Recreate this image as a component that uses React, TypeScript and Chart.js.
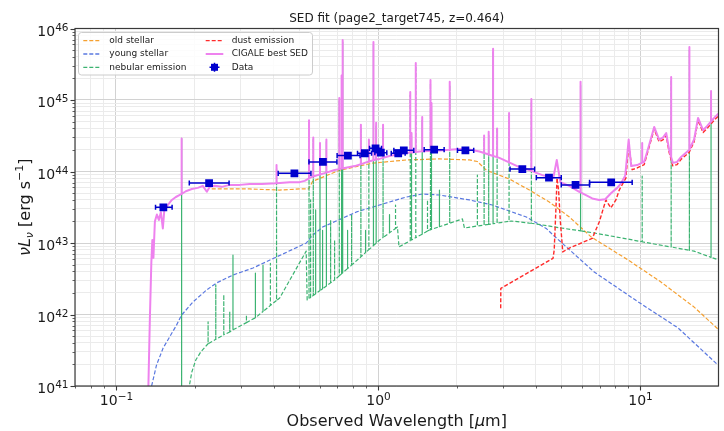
import React, { useEffect, useRef } from 'react';
import { Chart, registerables } from 'chart.js';

Chart.register(...registerables);

const FONT = '"DejaVu Sans", "Noto Sans", sans-serif';

const chartTitle = 'SED fit (page2_target745, z=0.464)';

// ---- Data (observed wavelength [µm], νLν [erg/s]) ----
const oldStellar: number[][] = [
  [0.232, 5.7e43], [0.324, 5.7e43], [0.421, 5.5e43], [0.502, 5.7e43], [0.543, 5.7e43],
  [0.563, 7.3e43], [0.713, 1.04e44], [0.953, 1.31e44], [1.284, 1.45e44], [1.715, 1.5e44],
  [2.23, 1.45e44], [2.393, 1.38e44], [2.59, 1.04e44], [3.17, 7.85e43], [3.78, 5.5e43],
  [4.5, 3.74e43], [5.37, 2.31e43], [6.51, 1.21e43], [9.0, 5.78e42], [12.0, 2.85e42],
  [16.06, 1.27e42], [20.0, 6.07e41],
];

const youngStellar: number[][] = [
  [0.1368, 1.0e41], [0.1429, 1.97e41], [0.1514, 3.4e41], [0.1703, 7.1e41], [0.1779, 9.8e41],
  [0.197, 1.5e42], [0.2216, 2.2e42], [0.2418, 2.76e42], [0.2798, 3.57e42], [0.3334, 4.47e42],
  [0.4095, 6.37e42], [0.5327, 1.0e43], [0.558, 1.25e43], [0.6143, 1.67e43], [0.828, 2.72e43],
  [1.106, 3.75e43], [1.284, 4.4e43], [1.477, 4.85e43], [1.715, 4.69e43], [2.232, 4.0e43],
  [2.73, 3.4e43], [3.68, 2.31e43], [4.38, 1.6e43], [4.7, 1.25e43], [6.68, 3.93e42],
  [9.83, 1.5e42], [13.96, 6.47e41], [19.8, 1.97e41],
];

const nebularContinuum: number[][] = [
  [0.175, 3e40], [0.1905, 1.0e41], [0.1948, 1.57e41], [0.2017, 2.31e41], [0.2108, 3.0e41],
  [0.2241, 3.87e41], [0.2791, 6.07e41], [0.3384, 8.9e41], [0.4214, 1.7e42], [0.5318, 7.7e42],
  [0.5365, 1.6e42], [0.6827, 3.04e42], [0.8502, 6.17e42], [1.013, 1.1e43], [1.186, 1.67e43],
  [1.202, 8.8e42], [1.571, 1.52e43], [2.098, 2.17e43], [2.136, 1.62e43], [3.226, 2.03e43],
  [3.777, 1.9e43], [5.0, 1.62e43], [6.68, 1.38e43], [8.92, 1.14e43], [11.81, 9.4e42],
  [16.06, 7.7e42], [20.0, 5.8e42],
];

// [wavelength, base, peak]
const nebularLines: number[][] = [
  [0.1781, 3.9e40, 2.9e44], [0.2247, 3.9e41, 7.9e41], [0.2404, 4.5e41, 2.6e42],
  [0.2579, 5.2e41, 1.9e42], [0.2718, 5.7e41, 1.1e42], [0.2796, 6.1e41, 6.8e42],
  [0.3147, 7.7e41, 9.8e41], [0.3405, 9.0e41, 3.8e42], [0.364, 1.1e42, 4.9e42],
  [0.3884, 1.34e42, 5.2e42], [0.41, 1.57e42, 1.12e44], [0.5454, 1.67e42, 4.9e44],
  [0.553, 1.73e42, 4.0e43], [0.5662, 1.85e42, 2.8e44], [0.578, 1.95e42, 2.9e43],
  [0.6006, 2.16e42, 2.3e44], [0.6143, 2.29e42, 1.5e43], [0.6353, 2.51e42, 2.6e44],
  [0.6593, 2.77e42, 2.1e43], [0.6827, 3.04e42, 1.1e43], [0.7114, 3.47e42, 1.0e45],
  [0.7261, 3.71e42, 2.1e45], [0.7329, 3.82e42, 6.5e45], [0.7652, 4.4e42, 1.5e43],
  [0.7927, 4.9e42, 2.5e43], [0.8601, 6.4e42, 4.1e44], [0.8962, 7.35e42, 1.5e43],
  [0.9225, 8.07e42, 2.8e44], [0.9604, 9.2e42, 5.9e45], [0.9835, 9.95e42, 4.3e44],
  [1.045, 1.19e43, 4.1e44], [1.106, 1.39e43, 2.5e43], [1.166, 1.6e43, 3.4e43],
  [1.327, 1.08e43, 1.17e45], [1.342, 1.1e43, 3.1e44], [1.393, 1.19e43, 3.0e45],
  [1.474, 1.33e43, 5.2e44], [1.544, 1.47e43, 4.0e43], [1.585, 1.53e43, 1.7e45],
  [1.599, 1.55e43, 8.2e44], [1.715, 1.69e43, 5.5e43], [1.877, 1.89e43, 1.6e45],
  [2.393, 1.73e43, 8.9e43], [2.539, 1.78e43, 2.9e44], [2.643, 1.82e43, 3.2e44],
  [2.747, 1.86e43, 4.7e45], [2.846, 1.9e43, 4.1e44], [3.161, 2.01e43, 6.0e44],
  [3.845, 1.89e43, 9.4e44], [5.924, 1.48e43, 1.6e45], [10.18, 1.04e43, 8.6e43],
  [13.13, 8.8e42, 1.9e45], [15.41, 7.9e42, 5.0e45], [18.64, 6.3e42, 1.2e45],
];

const dustEmission: number[][] = [
  [2.937, 1.22e42], [2.94, 2.32e42], [4.65, 6.1e42], [4.7, 8.0e42], [4.786, 4.0e43],
  [4.816, 8.1e43], [4.884, 5.5e43], [4.956, 2.1e43], [5.067, 7.5e42], [5.364, 8.5e42],
  [6.565, 1.16e43], [6.98, 1.97e43], [7.4, 4.0e43], [7.73, 3.1e43], [8.08, 4.0e43],
  [8.32, 5.5e43], [8.82, 8.1e43], [9.04, 2.35e44], [9.32, 1.06e44], [9.74, 1.12e44],
  [10.36, 1.25e44], [10.82, 2.2e44], [11.31, 3.9e44], [11.81, 2.6e44], [12.24, 2.8e44],
  [12.57, 3.2e44], [12.9, 1.85e44], [13.32, 1.2e44], [13.83, 1.25e44], [14.33, 1.48e44],
  [15.37, 1.85e44], [16.06, 2.6e44], [16.63, 5.2e44], [17.38, 3.5e44], [17.99, 4.0e44],
  [19.31, 5.4e44], [20.0, 6.1e44],
];

const sedContinuum: number[][] = [
  [0.1325, 5e40], [0.133, 1.0e41], [0.1347, 8.4e41], [0.1365, 5.4e42], [0.1377, 1.1e43],
  [0.139, 6.2e42], [0.1408, 2.0e43], [0.1433, 2.5e43], [0.1458, 2.1e43], [0.1484, 2.7e43],
  [0.151, 1.6e43], [0.153, 2.9e43], [0.1578, 3.4e43], [0.1634, 4.0e43], [0.1693, 4.4e43],
  [0.1753, 4.7e43], [0.1848, 5.3e43], [0.1948, 5.7e43], [0.2053, 5.9e43], [0.2145, 6.3e43],
  [0.2222, 5.2e43], [0.2281, 6.1e43], [0.2383, 6.3e43], [0.2533, 6.1e43], [0.2718, 6.5e43],
  [0.2968, 6.5e43], [0.3239, 6.7e43], [0.3599, 6.7e43], [0.4601, 7.1e43], [0.5022, 7.1e43],
  [0.5248, 7.4e43], [0.5578, 8.4e43], [0.5882, 8.9e43], [0.6254, 9.5e43], [0.6827, 1.05e44],
  [0.7454, 1.12e44], [0.8139, 1.19e44], [0.8884, 1.32e44], [1.013, 1.5e44], [1.106, 1.65e44],
  [1.208, 1.76e44], [1.439, 1.91e44], [1.571, 1.94e44], [1.715, 1.97e44], [2.044, 2.06e44],
  [2.232, 2.03e44], [2.436, 1.9e44], [2.903, 1.55e44], [3.459, 1.15e44], [3.777, 1.05e44],
  [4.234, 8.9e43], [4.501, 8.4e43], [4.662, 8.1e43], [4.807, 1.45e44], [4.956, 7.1e43],
  [5.364, 6.3e43], [5.857, 5.2e43], [6.563, 4.2e43], [6.98, 4.0e43], [7.357, 4.1e43],
  [7.753, 5.0e43], [8.175, 5.9e43], [8.466, 6.9e43], [8.768, 8.7e43], [9.04, 2.8e44],
  [9.24, 1.19e44], [9.74, 1.23e44], [10.36, 1.36e44], [10.82, 2.35e44], [11.31, 4.2e44],
  [11.81, 2.8e44], [12.24, 3.0e44], [12.57, 3.45e44], [12.9, 2.0e44], [13.32, 1.32e44],
  [13.83, 1.36e44], [14.33, 1.6e44], [15.37, 2.0e44], [16.06, 2.8e44], [16.63, 5.6e44],
  [17.38, 3.8e44], [17.99, 4.3e44], [19.31, 5.8e44], [20.0, 6.6e44],
];

// [wavelength, base, peak]
const sedLines: number[][] = [
  [0.1781, 4.85e43, 2.9e44], [0.41, 6.85e43, 1.23e44], [0.5454, 8.0e43, 5.2e44],
  [0.5662, 8.5e43, 3.0e44], [0.6006, 9.1e43, 2.5e44], [0.6353, 9.65e43, 2.8e44],
  [0.7114, 1.08e44, 1.07e45], [0.7261, 1.1e44, 2.2e45], [0.7329, 1.105e44, 6.9e45],
  [0.8601, 1.26e44, 4.5e44], [0.9225, 1.38e44, 2.8e44], [0.9604, 1.44e44, 6.5e45],
  [0.9835, 1.47e44, 4.8e44], [1.045, 1.55e44, 4.5e44], [1.327, 1.84e44, 1.29e45],
  [1.342, 1.85e44, 3.45e44], [1.393, 1.88e44, 3.3e45], [1.474, 1.92e44, 5.8e44],
  [1.585, 1.94e44, 1.9e45], [1.599, 1.95e44, 9.1e44], [1.877, 2.01e44, 1.8e45],
  [2.539, 1.81e44, 3.2e44], [2.643, 1.73e44, 3.6e44], [2.747, 1.65e44, 5.2e45],
  [2.846, 1.59e44, 4.0e44], [3.161, 1.34e44, 6.6e44], [3.845, 1.02e44, 1.03e45],
  [5.924, 5.1e43, 1.8e45], [10.18, 1.33e44, 2.5e44], [13.13, 1.59e44, 2.1e45],
  [15.41, 2.03e44, 5.5e45], [18.64, 5.0e44, 1.34e45],
];

// Photometry
const dataWave = [0.1517, 0.2267, 0.4796, 0.6161, 0.7674, 0.8906, 0.9783, 1.025, 1.194, 1.254, 1.637, 2.154, 3.552, 4.489, 5.669, 7.753];
const dataWaveLo = [0.1416, 0.1905, 0.416, 0.545, 0.698, 0.835, 0.928, 0.972, 1.123, 1.149, 1.4997, 2.009, 3.188, 4.017, 5.0, 6.411];
const dataWaveHi = [0.1638, 0.2702, 0.5546, 0.6967, 0.854, 0.9445, 1.031, 1.08, 1.269, 1.369, 1.787, 2.317, 3.957, 5.0, 6.411, 9.322];
const dataLum = [3.16e43, 6.9e43, 9.44e43, 1.36e44, 1.67e44, 1.8e44, 2.11e44, 1.83e44, 1.8e44, 1.98e44, 2.02e44, 1.98e44, 1.08e44, 8.2e43, 6.48e43, 7.06e43];

// Axes
const xMin = 0.0698;
const xMax = 19.9;
const yMin = 1e41;
const yMax = 1e46;
const xTickValues = [0.07, 0.08, 0.09, 0.1, 0.2, 0.3, 0.4, 0.5, 0.6, 0.7, 0.8, 0.9, 1, 2, 3, 4, 5, 6, 7, 8, 9, 10];
const yDecades = [41, 42, 43, 44, 45, 46];
const minorMantissas = [2, 3, 4, 5, 6, 7, 8, 9];

const COLORS = {
  old: '#f5a030',
  young: '#5a78e0',
  nebular: '#3cb371',
  dust: '#ff2a2a',
  sed: '#ee82ee',
  data: '#0000cd',
};

const isDecade = (v: number) => {
  const l = Math.log10(v);
  return Math.abs(l - Math.round(l)) < 1e-6;
};
const expText = (v: number) => String(Math.round(Math.log10(v))).replace('-', '−');

const yTickValues: number[] = [];
yDecades.forEach((e, i) => {
  yTickValues.push(Math.pow(10, e));
  if (i < yDecades.length - 1) minorMantissas.forEach((m) => yTickValues.push(m * Math.pow(10, e)));
});

type P = { x: number; y: number | null };
const toPts = (arr: number[][]): P[] => arr.map(([x, y]) => ({ x, y }));
function withSpikes(cont: number[][], lines: number[][]): P[] {
  const groups: { x: number; pts: P[] }[] = cont.map(([x, y]) => ({ x, pts: [{ x, y }] }));
  lines.forEach(([x, base, peak]) =>
    groups.push({ x, pts: [{ x, y: base }, { x, y: peak }, { x, y: base }] })
  );
  groups.sort((a, b) => a.x - b.x);
  return groups.flatMap((g) => g.pts);
}

const legendEntries = [
  { label: 'old stellar', color: COLORS.old, kind: 'dash', col: 0, row: 0 },
  { label: 'young stellar', color: COLORS.young, kind: 'dash', col: 0, row: 1 },
  { label: 'nebular emission', color: COLORS.nebular, kind: 'dash', col: 0, row: 2 },
  { label: 'dust emission', color: COLORS.dust, kind: 'dash', col: 1, row: 0 },
  { label: 'CIGALE best SED', color: COLORS.sed, kind: 'solid', col: 1, row: 1 },
  { label: 'Data', color: COLORS.data, kind: 'marker', col: 1, row: 2 },
];

function drawRich(ctx: CanvasRenderingContext2D, segs: { t: string; f: string; dy?: number }[], cx: number, base: number) {
  let w = 0;
  segs.forEach((s) => {
    ctx.font = s.f;
    w += ctx.measureText(s.t).width;
  });
  let xx = cx - w / 2;
  ctx.textAlign = 'left';
  ctx.textBaseline = 'alphabetic';
  segs.forEach((s) => {
    ctx.font = s.f;
    ctx.fillText(s.t, xx, base + (s.dy || 0));
    xx += ctx.measureText(s.t).width;
  });
  return w;
}

const BASE_F = `14px ${FONT}`;
const SUP_F = `10.5px ${FONT}`;

const decorPlugin = {
  id: 'decor',
  afterDraw(chart: any) {
    const { ctx, chartArea: a, scales } = chart;
    ctx.save();
    // frame
    ctx.strokeStyle = '#3a3a3a';
    ctx.lineWidth = 1.2;
    ctx.setLineDash([]);
    ctx.strokeRect(a.left, a.top, a.right - a.left, a.bottom - a.top);
    // tick marks + labels
    const xs = scales.x;
    const ys = scales.y;
    ctx.fillStyle = '#1a1a1a';
    xs.ticks.forEach((t: any) => {
      const px = Math.round(xs.getPixelForValue(t.value)) + 0.5;
      if (px < a.left - 1 || px > a.right + 1) return;
      const major = isDecade(t.value);
      ctx.lineWidth = major ? 1.1 : 0.8;
      ctx.beginPath();
      ctx.moveTo(px, a.bottom);
      ctx.lineTo(px, a.bottom + (major ? 4.5 : 2.5));
      ctx.stroke();
      if (major) {
        drawRich(ctx, [{ t: '10', f: BASE_F }, { t: expText(t.value), f: SUP_F, dy: -5.5 }], px, 405);
      }
    });
    ys.ticks.forEach((t: any) => {
      const py = Math.round(ys.getPixelForValue(t.value)) + 0.5;
      const major = isDecade(t.value);
      ctx.lineWidth = major ? 1.1 : 0.8;
      ctx.beginPath();
      ctx.moveTo(a.left, py);
      ctx.lineTo(a.left - (major ? 4.5 : 2.5), py);
      ctx.stroke();
      if (major) {
        ctx.font = BASE_F;
        const w1 = ctx.measureText('10').width;
        ctx.font = SUP_F;
        const e = expText(t.value);
        const w2 = ctx.measureText(e).width;
        const right = a.left - 6.5;
        drawRich(ctx, [{ t: '10', f: BASE_F }, { t: e, f: SUP_F, dy: -5.5 }], right - (w1 + w2) / 2, py + 6.5);
      }
    });
    const cx = (a.left + a.right) / 2;
    // title
    drawRich(ctx, [{ t: chartTitle, f: `12px ${FONT}` }], cx, 22);
    // x axis title
    drawRich(
      ctx,
      [
        { t: 'Observed Wavelength [', f: `16px ${FONT}` },
        { t: 'μ', f: `italic 16px ${FONT}` },
        { t: 'm]', f: `16px ${FONT}` },
      ],
      cx,
      425.5
    );
    // y axis title
    ctx.save();
    ctx.translate(30, (a.top + a.bottom) / 2);
    ctx.rotate(-Math.PI / 2);
    drawRich(
      ctx,
      [
        { t: 'νL', f: `italic 16px ${FONT}` },
        { t: 'ν', f: `italic 11px ${FONT}`, dy: 3 },
        { t: ' [erg s', f: `16px ${FONT}` },
        { t: '−1', f: `11px ${FONT}`, dy: -7 },
        { t: ']', f: `16px ${FONT}` },
      ],
      0,
      0
    );
    ctx.restore();

    // legend
    const bx = 78.5, by = 32.5, bw = 234, bh = 42.5;
    ctx.fillStyle = 'rgba(255,255,255,0.85)';
    ctx.strokeStyle = '#cccccc';
    ctx.lineWidth = 1;
    ctx.beginPath();
    (ctx as any).roundRect ? ctx.roundRect(bx, by, bw, bh, 3) : ctx.rect(bx, by, bw, bh);
    ctx.fill();
    ctx.stroke();
    const rowY = [40.7, 54, 67.3];
    const handleX = [[83.3, 100.7], [205.7, 223.3]];
    const textX = [109.3, 231.7];
    legendEntries.forEach((e) => {
      const y = rowY[e.row];
      const [h0, h1] = handleX[e.col];
      ctx.strokeStyle = e.color;
      if (e.kind === 'dash') {
        ctx.lineWidth = 1.3;
        ctx.setLineDash([4, 2]);
        ctx.beginPath();
        ctx.moveTo(h0, y);
        ctx.lineTo(h1, y);
        ctx.stroke();
        ctx.setLineDash([]);
      } else if (e.kind === 'solid') {
        ctx.lineWidth = 2;
        ctx.beginPath();
        ctx.moveTo(h0, y);
        ctx.lineTo(h1, y);
        ctx.stroke();
      } else {
        const mx = (h0 + h1) / 2;
        ctx.lineWidth = 1.5;
        ctx.beginPath();
        ctx.moveTo(mx - 5, y);
        ctx.lineTo(mx + 5, y);
        ctx.moveTo(mx, y - 4.5);
        ctx.lineTo(mx, y + 4.5);
        ctx.stroke();
        ctx.fillStyle = e.color;
        ctx.fillRect(mx - 3.5, y - 3.5, 7, 7);
      }
      ctx.fillStyle = '#1a1a1a';
      ctx.font = `9px ${FONT}`;
      ctx.textAlign = 'left';
      ctx.textBaseline = 'middle';
      ctx.fillText(e.label, textX[e.col], y);
    });
    ctx.restore();
  },
};

export default function App() {
  const ref = useRef<HTMLCanvasElement>(null);

  useEffect(() => {
    if (!ref.current) return;
    const errPts: P[] = dataWave.flatMap((_, i) => [
      { x: dataWaveLo[i], y: dataLum[i] },
      { x: dataWaveHi[i], y: dataLum[i] },
      { x: dataWaveHi[i], y: null },
    ]);
    const lineBase = {
      pointRadius: 0,
      pointHoverRadius: 0,
      pointHitRadius: 0,
      tension: 0,
      fill: false,
      borderJoinStyle: 'round' as const,
    };
    const gridColor = (c: any) => (c.tick && isDecade(c.tick.value) ? '#d2d2d2' : '#ebebeb');

    const chart = new Chart(ref.current, {
      type: 'line',
      data: {
        datasets: [
          {
            ...lineBase,
            label: 'old stellar',
            data: toPts(oldStellar) as any,
            borderColor: COLORS.old,
            borderWidth: 1.2,
            borderDash: [4, 2],
            order: 6,
          },
          {
            ...lineBase,
            label: 'young stellar',
            data: toPts(youngStellar) as any,
            borderColor: COLORS.young,
            borderWidth: 1.2,
            borderDash: [4, 2],
            order: 5,
          },
          {
            ...lineBase,
            label: 'nebular emission',
            data: withSpikes(nebularContinuum, nebularLines) as any,
            borderColor: COLORS.nebular,
            borderWidth: 1.2,
            borderDash: [4, 2],
            order: 4,
          },
          {
            ...lineBase,
            label: 'dust emission',
            data: toPts(dustEmission) as any,
            borderColor: COLORS.dust,
            borderWidth: 1.4,
            borderDash: [4, 2],
            order: 3,
          },
          {
            ...lineBase,
            label: 'CIGALE best SED',
            data: withSpikes(sedContinuum, sedLines) as any,
            borderColor: COLORS.sed,
            borderWidth: 2,
            order: 2,
          },
          {
            label: 'Data errors',
            data: errPts as any,
            borderColor: COLORS.data,
            borderWidth: 1.5,
            spanGaps: false,
            pointStyle: 'line',
            pointRotation: 90,
            pointRadius: 2.6,
            pointBorderColor: COLORS.data,
            pointBorderWidth: 1.5,
            pointHoverRadius: 0,
            fill: false,
            order: 1,
          },
          {
            label: 'Data',
            data: dataWave.map((x, i) => ({ x, y: dataLum[i] })) as any,
            showLine: false,
            pointStyle: 'rect',
            pointRadius: 5.5,
            pointBackgroundColor: COLORS.data,
            pointBorderColor: COLORS.data,
            pointBorderWidth: 0,
            pointHoverRadius: 5.5,
            order: 0,
          },
        ],
      },
      options: {
        animation: false,
        responsive: true,
        maintainAspectRatio: false,
        events: [],
        layout: { padding: { top: 28.5, right: 4.5, left: 0, bottom: 0 } },
        plugins: {
          legend: { display: false },
          tooltip: { enabled: false },
          title: { display: false },
        },
        scales: {
          x: {
            type: 'logarithmic',
            min: xMin,
            max: xMax,
            afterBuildTicks: (s: any) => {
              s.ticks = xTickValues.map((v) => ({ value: v }));
            },
            afterFit: (s: any) => {
              s.height = 45;
            },
            border: { display: false },
            grid: { color: gridColor, lineWidth: 1, drawTicks: false },
            ticks: { display: false, autoSkip: false, maxRotation: 0, minRotation: 0 },
          },
          y: {
            type: 'logarithmic',
            min: yMin,
            max: yMax,
            afterBuildTicks: (s: any) => {
              s.ticks = yTickValues.map((v) => ({ value: v }));
            },
            afterFit: (s: any) => {
              s.width = 75;
            },
            border: { display: false },
            grid: { color: gridColor, lineWidth: 1, drawTicks: false },
            ticks: { display: false, autoSkip: false },
          },
        },
      },
      plugins: [decorPlugin],
    } as any);
    return () => chart.destroy();
  }, []);

  return (
    <div style={{ position: 'fixed', left: 0, top: 0, width: 724, height: 431, background: '#ffffff' }}>
      <canvas ref={ref} />
    </div>
  );
}
